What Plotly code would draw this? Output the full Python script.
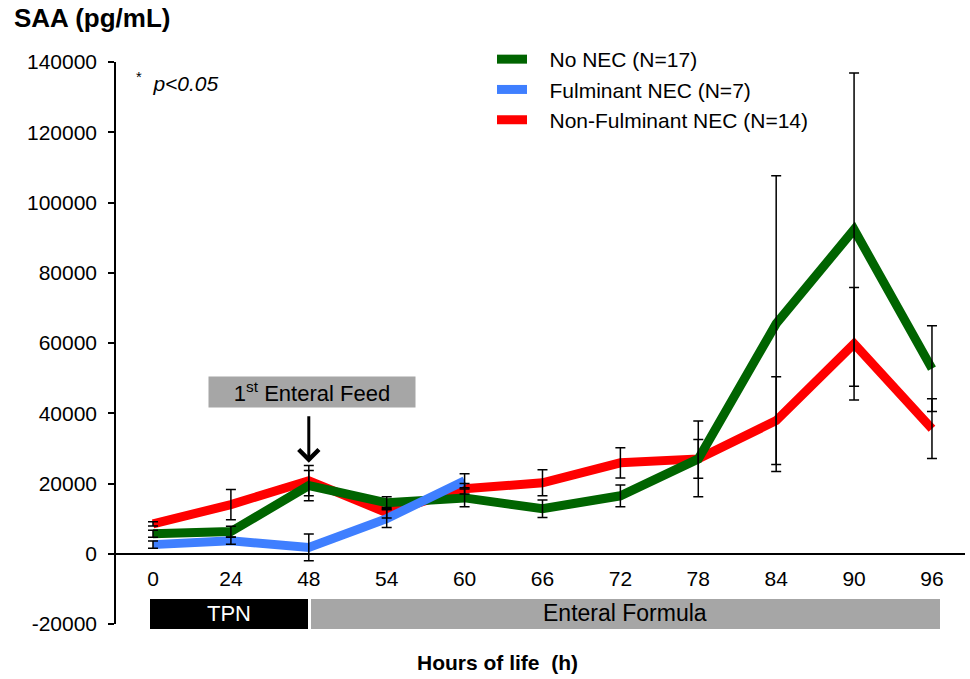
import plotly.graph_objects as go

hours = ["0", "24", "48", "54", "60", "66", "72", "78", "84", "90", "96"]
no_nec = [5700, 6300, 19400, 14500, 15900, 12800, 16500, 27000, 65500, 92300, 52700]
no_nec_err = [1000, 1500, 4300, 1700, 2500, 2500, 3100, 10800, 42100, 44600, 12200]
fulminant = [2600, 3700, 1800, 10000, 20800]
fulminant_err = [1000, 1000, 3800, 2500, 2000]
non_fulminant = [8500, 14000, 20800, 11700, 18500, 20200, 25900, 27000, 37900, 59800, 35600]
non_fulminant_err = [600, 4300, 4300, 1500, 1500, 3700, 4300, 5500, 12500, 16000, 8500]
y_ticks = [-20000, 0, 20000, 40000, 60000, 80000, 100000, 120000, 140000]
y_tick_text = ["-20000", "0", "20000", "40000", "60000", "80000", "100000", "120000", "140000"]
series_names = ["No NEC (N=17)", "Fulminant NEC (N=7)", "Non-Fulminant NEC (N=14)"]

FONT = "Liberation Sans, Arial, sans-serif"
GREEN = "#006400"
BLUE = "#3F7FFF"
RED = "#FF0000"
PAD = "\u00a0\u00a0\u00a0"

xi = list(range(len(hours)))
fig = go.Figure()

fig.add_trace(go.Scatter(x=xi, y=non_fulminant, mode="lines", name=PAD + series_names[2],
                         line=dict(color=RED, width=9), legendrank=3))
fig.add_trace(go.Scatter(x=xi, y=no_nec, mode="lines", name=PAD + series_names[0],
                         line=dict(color=GREEN, width=9), legendrank=1))
fig.add_trace(go.Scatter(x=xi[:len(fulminant)], y=fulminant, mode="lines", name=PAD + series_names[1],
                         line=dict(color=BLUE, width=9), legendrank=2))

for ys, es, n in [(non_fulminant, non_fulminant_err, len(hours)),
                  (no_nec, no_nec_err, len(hours)),
                  (fulminant, fulminant_err, len(fulminant))]:
    fig.add_trace(go.Scatter(x=xi[:n], y=ys, mode="markers", showlegend=False, hoverinfo="skip",
                             marker=dict(size=1, color="rgba(0,0,0,0)"),
                             error_y=dict(type="data", array=es, color="black", thickness=1.5, width=5)))

L, R, T, B = 116, 5, 62, 55
W, H = 970, 679
pw, ph = W - L - R, H - T - B

def px(x):
    return (x - L) / pw

def py(y):
    return (H - B - y) / ph

fig.update_layout(
    width=W, height=H,
    margin=dict(l=L, r=R, t=T, b=B),
    plot_bgcolor="white", paper_bgcolor="white",
    font=dict(family=FONT, color="black", size=21),
    showlegend=True,
    legend=dict(x=px(492), y=py(39), xanchor="left", yanchor="top",
                font=dict(size=21, family=FONT, color="black"),
                bgcolor="rgba(0,0,0,0)", traceorder="normal", itemwidth=30),
    xaxis=dict(range=[-0.475, 10.424], tickvals=xi, ticktext=hours, showgrid=False,
               zeroline=False, showline=True, linecolor="black", linewidth=1.5,
               ticks="", anchor="free", position=20000 / 160000, ticklabelstandoff=6,
               tickfont=dict(size=21, family=FONT, color="black")),
    yaxis=dict(range=[-20000, 140000], tickvals=y_ticks, ticktext=y_tick_text, showgrid=False,
               zeroline=False, showline=True, linecolor="black", linewidth=1.5,
               ticks="outside", ticklen=6, tickwidth=1.5, tickcolor="black", ticklabelstandoff=7,
               tickfont=dict(size=21, family=FONT, color="black")),
)

fig.add_shape(type="rect", xref="paper", yref="paper", x0=px(150), x1=px(308), y0=py(629), y1=py(599),
              fillcolor="black", line=dict(width=0))
fig.add_shape(type="rect", xref="paper", yref="paper", x0=px(311), x1=px(940), y0=py(629), y1=py(599),
              fillcolor="#A6A6A6", line=dict(width=0))

ann = [
    dict(text="<b>SAA (pg/mL)</b>", x=px(12), y=py(18), xanchor="left", yanchor="middle",
         font=dict(size=26)),
    dict(text="<sup>*</sup>  <i>p&lt;0.05</i>", x=px(134), y=py(82), xanchor="left", yanchor="middle",
         font=dict(size=21)),
    dict(text="1<sup>st</sup> Enteral Feed", x=px(312), y=py(392), xanchor="center", yanchor="middle",
         font=dict(size=22), bgcolor="#A6A6A6", width=204, height=28),
    dict(text="TPN", x=px(229), y=py(613), xanchor="center", yanchor="middle",
         font=dict(size=22, color="white")),
    dict(text="Enteral Formula", x=px(625), y=py(613), xanchor="center", yanchor="middle",
         font=dict(size=23)),
    dict(text="<b>Hours of life  (h)</b>", x=px(497), y=py(662), xanchor="center", yanchor="middle",
         font=dict(size=21)),
]
for a in ann:
    a.setdefault("xref", "paper")
    a.setdefault("yref", "paper")
    a["showarrow"] = False
    fig.add_annotation(**a)

fig.add_annotation(x=2, y=25900, xref="x", yref="y", ax=0, ay=-48, text="", showarrow=True,
                   arrowhead=4, arrowsize=1.3, arrowwidth=3, arrowcolor="black")

fig.write_html("out.html")
